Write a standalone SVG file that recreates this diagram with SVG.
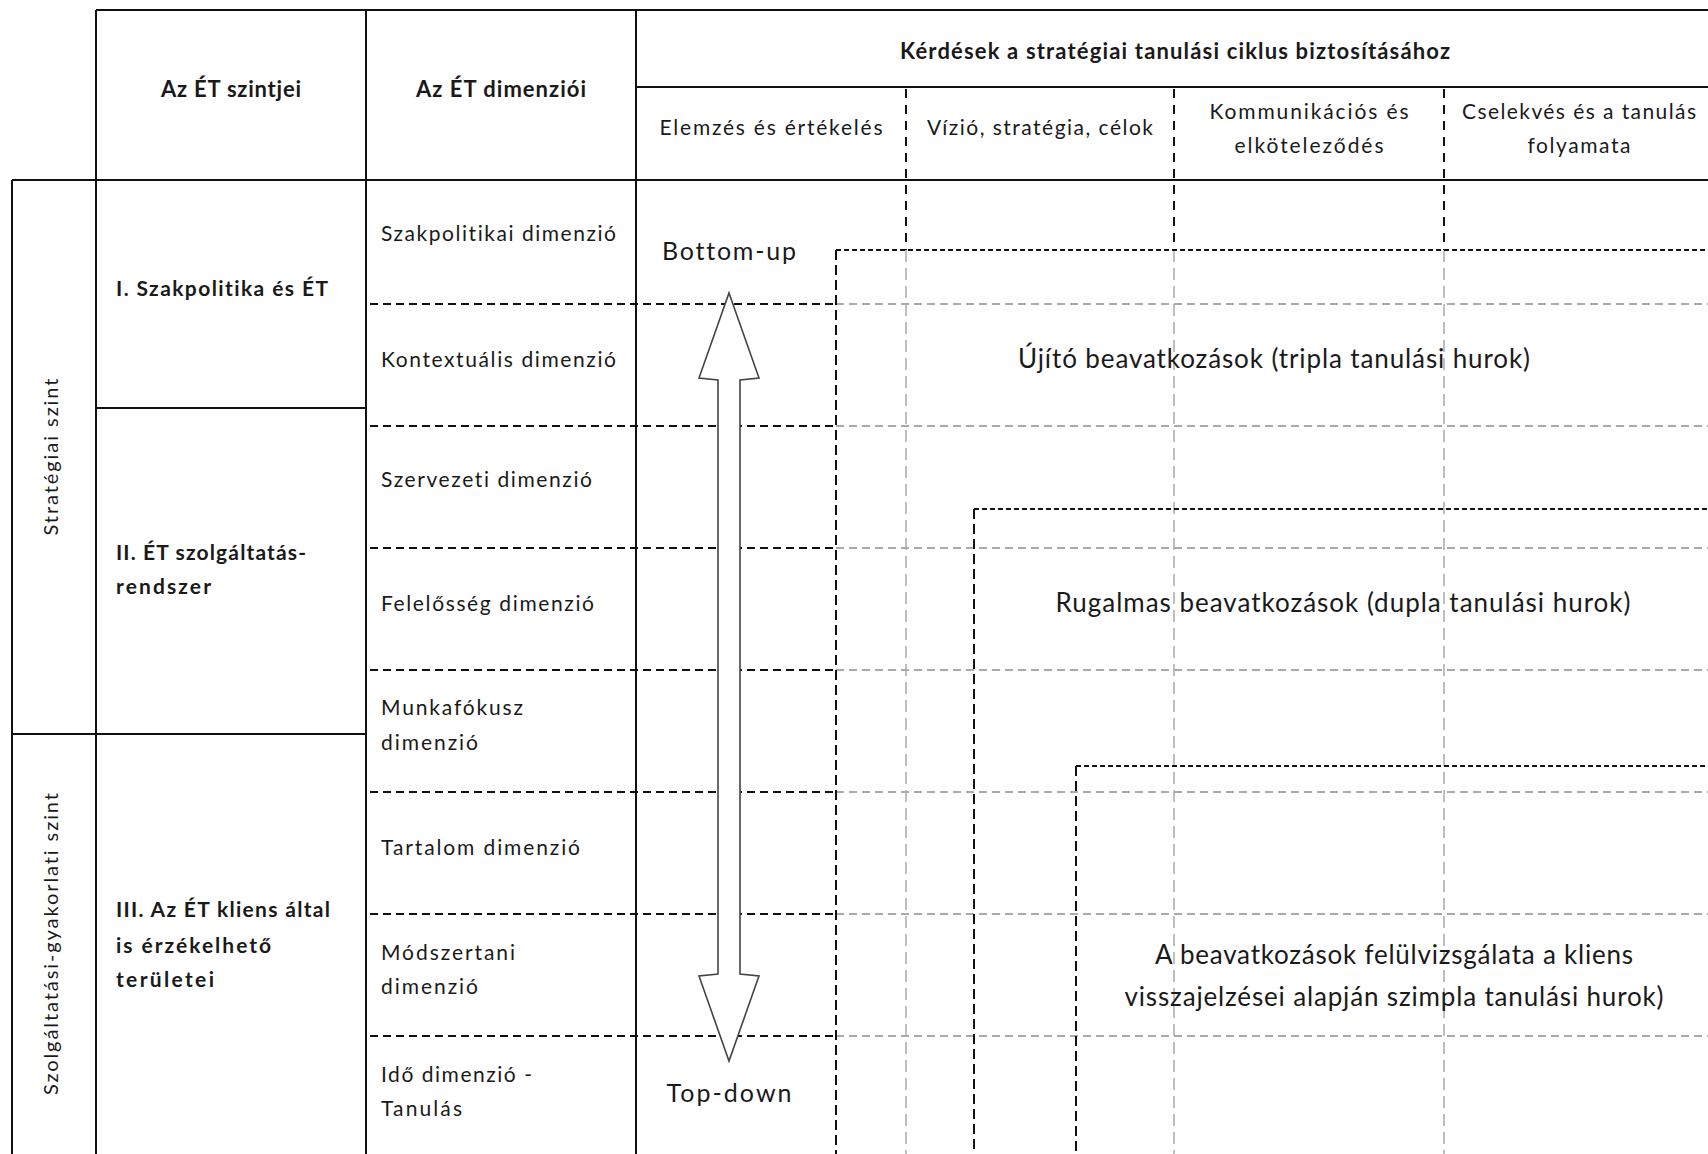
<svg xmlns="http://www.w3.org/2000/svg" width="1708" height="1154" viewBox="0 0 1708 1154">
<style>
  text { font-family: Lato, "Open Sans", "Liberation Sans", sans-serif; fill: #1a1a1a; dominant-baseline: central; font-variant-ligatures: none; }
  .hb { font-weight: bold; font-size: 22px; }
  .sh { font-size: 21px; }
  .dim { font-size: 21px; }
  .lv { font-weight: bold; font-size: 21px; }
  .vt { font-size: 20px; }
  .big { font-size: 26px; }
  .bu { font-size: 25px; }
  .solid { stroke: #111; stroke-width: 2; fill: none; }
  .rowd { stroke: #111; stroke-width: 2; stroke-dasharray: 8 5; fill: none; }
  .rowg { stroke: #aaa; stroke-width: 2; stroke-dasharray: 8 5; fill: none; }
  .cold { stroke: #111; stroke-width: 2; stroke-dasharray: 9 7; fill: none; }
  .colg { stroke: #aaa; stroke-width: 1.5; stroke-dasharray: 12 6; fill: none; }
  .boxh { stroke: #111; stroke-width: 2; stroke-dasharray: 5 3; fill: none; }
  .boxv { stroke: #111; stroke-width: 2; stroke-dasharray: 10 5; fill: none; }
</style>
<rect width="1708" height="1154" fill="#fff"/>

<g id="connectors">
  <g id="grid-gray">
    <path class="rowg" d="M836 304H1708M836 426H1708M836 548H1708M836 670H1708M836 792H1708M836 914H1708M836 1036H1708"/>
    <path class="colg" d="M906 250V1154M1174 250V1154M1444 250V1154"/>
  </g>
  <g id="grid-black">
    <path class="rowd" d="M370 304H836M370 426H836M370 548H836M370 670H836M370 792H836M370 914H836M370 1036H836"/>
    <path class="cold" d="M906 89V250M1174 89V250M1444 89V250"/>
  </g>
  <g id="boxes">
    <path class="boxh" d="M836 250H1708"/>
    <path class="boxv" d="M836 250V1154"/>
    <path class="boxh" d="M974 509H1708"/>
    <path class="boxv" d="M974 509V1154"/>
    <path class="boxh" d="M1076 766H1708"/>
    <path class="boxv" d="M1076 766V1154"/>
  </g>
  <g id="table">
    <path class="solid" d="M96 10H1708M636 87H1708M12 180H1708M96 408H366M12 734H366"/>
    <path class="solid" d="M12 180V1154M96 10V1154M366 10V1154M636 10V1154"/>
  </g>
</g>

<g id="header-levels"><text class="hb" x="231" y="88" text-anchor="middle" textLength="140" lengthAdjust="spacing">Az ÉT szintjei</text></g>
<g id="header-dims"><text class="hb" x="501" y="88" text-anchor="middle" textLength="170" lengthAdjust="spacing">Az ÉT dimenziói</text></g>
<g id="header-questions"><text class="hb" x="1175" y="50" text-anchor="middle" textLength="550" lengthAdjust="spacing">Kérdések a stratégiai tanulási  ciklus  biztosításához</text></g>
<g id="q1"><text class="sh" x="771" y="126" text-anchor="middle" textLength="223" lengthAdjust="spacing">Elemzés és értékelés</text></g>
<g id="q2"><text class="sh" x="1040" y="126" text-anchor="middle" textLength="226" lengthAdjust="spacing">Vízió, stratégia,  célok</text></g>
<g id="q3"><text class="sh" x="1309" y="110" text-anchor="middle" textLength="199" lengthAdjust="spacing">Kommunikációs és</text><text class="sh" x="1309" y="144" text-anchor="middle" textLength="149" lengthAdjust="spacing">elköteleződés</text></g>
<g id="q4"><text class="sh" x="1579" y="110" text-anchor="middle" textLength="234" lengthAdjust="spacing">Cselekvés és a tanulás</text><text class="sh" x="1579" y="144" text-anchor="middle" textLength="103" lengthAdjust="spacing">folyamata</text></g>

<g id="strategic-level"><text class="vt" transform="translate(50 457) rotate(-90)" x="0" y="0" text-anchor="middle" textLength="157" lengthAdjust="spacing">Stratégiai  szint</text></g>
<g id="service-level"><text class="vt" transform="translate(50 944) rotate(-90)" x="0" y="0" text-anchor="middle" textLength="302" lengthAdjust="spacing">Szolgáltatási-gyakorlati   szint</text></g>

<g id="level-1"><text class="lv" x="116" y="287" textLength="212" lengthAdjust="spacing">I. Szakpolitika  és ÉT</text></g>
<g id="level-2"><text class="lv" x="116" y="551" textLength="190" lengthAdjust="spacing">II. ÉT szolgáltatás-</text><text class="lv" x="116" y="585" textLength="95" lengthAdjust="spacing">rendszer</text></g>
<g id="level-3"><text class="lv" x="116" y="908" textLength="214" lengthAdjust="spacing">III. Az ÉT kliens által</text><text class="lv" x="116" y="944" textLength="155" lengthAdjust="spacing">is érzékelhető</text><text class="lv" x="116" y="978" textLength="98" lengthAdjust="spacing">területei</text></g>

<g id="dim-1"><text class="dim" x="381" y="232" textLength="235" lengthAdjust="spacing">Szakpolitikai dimenzió</text></g>
<g id="dim-2"><text class="dim" x="381" y="358" textLength="235" lengthAdjust="spacing">Kontextuális dimenzió</text></g>
<g id="dim-3"><text class="dim" x="381" y="478" textLength="211" lengthAdjust="spacing">Szervezeti dimenzió</text></g>
<g id="dim-4"><text class="dim" x="381" y="602" textLength="213" lengthAdjust="spacing">Felelősség dimenzió</text></g>
<g id="dim-5"><text class="dim" x="381" y="706" textLength="142" lengthAdjust="spacing">Munkafókusz</text><text class="dim" x="381" y="741" textLength="97" lengthAdjust="spacing">dimenzió</text></g>
<g id="dim-6"><text class="dim" x="381" y="846" textLength="199" lengthAdjust="spacing">Tartalom dimenzió</text></g>
<g id="dim-7"><text class="dim" x="381" y="951" textLength="134" lengthAdjust="spacing">Módszertani</text><text class="dim" x="381" y="985" textLength="97" lengthAdjust="spacing">dimenzió</text></g>
<g id="dim-8"><text class="dim" x="381" y="1073" textLength="151" lengthAdjust="spacing">Idő dimenzió  -</text><text class="dim" x="381" y="1107" textLength="81" lengthAdjust="spacing">Tanulás</text></g>

<g id="arrow">
  <polygon points="729,293 759,378 740,380 740,974 759,976 729,1061 699,976 718,974 718,380 699,378" fill="#fff" stroke="#444" stroke-width="1.6" stroke-linejoin="miter"/>
</g>
<g id="bottom-up"><text class="bu" x="729" y="250" text-anchor="middle" textLength="134" lengthAdjust="spacing">Bottom-up</text></g>
<g id="top-down"><text class="bu" x="729" y="1092" text-anchor="middle" textLength="125" lengthAdjust="spacing">Top-down</text></g>

<g id="triple-loop"><text class="big" x="1274" y="358" text-anchor="middle" textLength="512" lengthAdjust="spacing">Újító beavatkozások (tripla tanulási hurok)</text></g>
<g id="double-loop"><text class="big" x="1343" y="602" text-anchor="middle" textLength="575" lengthAdjust="spacing">Rugalmas beavatkozások (dupla tanulási hurok)</text></g>
<g id="single-loop"><text class="big" x="1394" y="954" text-anchor="middle" textLength="478" lengthAdjust="spacing">A beavatkozások felülvizsgálata a kliens</text><text class="big" x="1394" y="996" text-anchor="middle" textLength="539" lengthAdjust="spacing">visszajelzései alapján szimpla tanulási hurok)</text></g>
</svg>
